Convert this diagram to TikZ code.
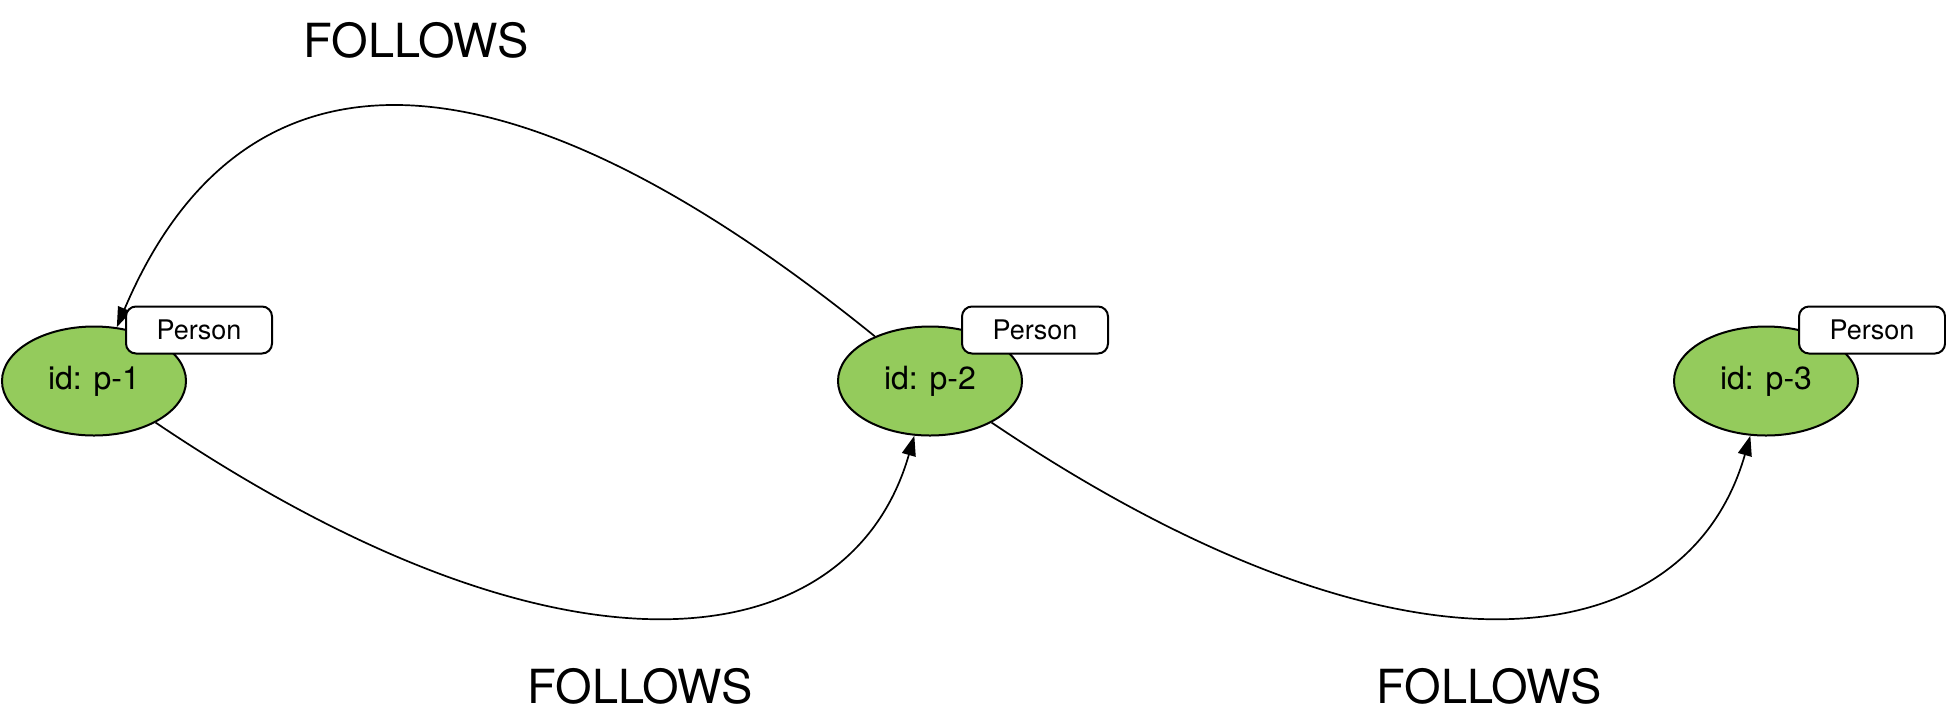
\documentclass[tikz,border=0pt]{standalone}
\usepackage{fontspec}
\setmainfont{TeX Gyre Heros}
\usepackage{xcolor}
\definecolor{colorPerson}{RGB}{148,203,92}
\usetikzlibrary{arrows.meta, positioning, shapes.geometric}
\tikzset{reltext/.style={font=\fontsize{23.5}{28}\selectfont}}

\begin{document}
\begin{tikzpicture}[>={Triangle[length=10pt,width=7pt]}, line width=0.85pt, node distance=418pt, on grid,
  person/.style={ellipse, draw, line width=1pt, fill=colorPerson, minimum width=92pt, minimum height=54.5pt, inner sep=0pt, font=\fontsize{16}{19}\selectfont},
  tag/.style={rectangle, rounded corners=5pt, draw, line width=1pt, fill=white, minimum width=73pt, minimum height=23.5pt, inner sep=0pt, font=\fontsize{13.5}{16}\selectfont}]
\useasboundingbox (0,0) rectangle (973pt,-362pt);
\node[person] (p1) at (47pt,-190.5pt) {id: p-1};
\node[person, right=of p1] (p2) {id: p-2};
\node[person, right=of p2] (p3) {id: p-3};
\draw[->] (p2) to[out=141, in=67, out distance=246pt, in distance=157pt] (p1);
\draw[->] (p1) to[out=-34, in=-106, out distance=250pt, in distance=115pt] (p2);
\draw[->] (p2) to[out=-34, in=-106, out distance=250pt, in distance=115pt] (p3);
\node[tag] (t1) at ([xshift=52.5pt, yshift=25.5pt]p1.center) {Person};
\node[tag] (t2) at ([xshift=52.5pt, yshift=25.5pt]p2.center) {Person};
\node[tag] (t3) at ([xshift=53pt, yshift=25.5pt]p3.center) {Person};
\node[reltext] (f21) at (208pt,-20pt) {FOLLOWS};
\node[reltext] (f12) at (320pt,-343pt) {FOLLOWS};
\node[reltext] (f23) at (744.5pt,-343pt) {FOLLOWS};
\end{tikzpicture}
\end{document}
